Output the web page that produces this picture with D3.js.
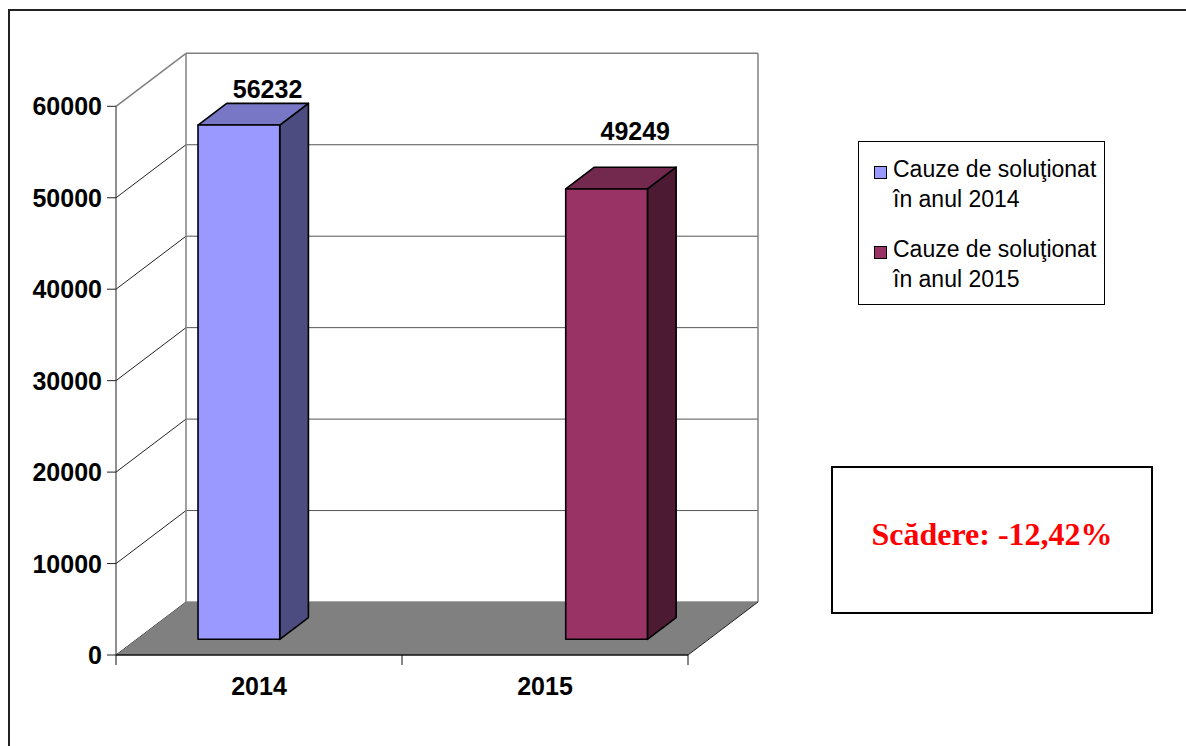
<!DOCTYPE html>
<html>
<head>
<meta charset="utf-8">
<title>Cauze de solutionat 2014 - 2015</title>
<script src="https://d3js.org/d3.v7.min.js"></script>
<style>
    body { margin: 0; background: #fff; }
    text { font-family: "Liberation Sans", Arial, sans-serif; }
</style>
</head>
<body>
<script>
// data
const categories = ["2014", "2015"];
const seriesNames = ["Cauze de soluţionat în anul 2014", "Cauze de soluţionat în anul 2015"];
const values2014 = [56232, null];
const values2015 = [null, 49249];
const yTicks = [0, 10000, 20000, 30000, 40000, 50000, 60000];
const noteText = "Scădere: -12,42%";

const W = 1186, H = 746;

// front plane of the 3d box
const pLeft = 116, pRight = 688, pBottom = 655, pTop = 106.3;
const DX = 70, DY = -53;          // full depth offset
const z0 = 0.296, z1 = 0.706;     // bar front / back depth fraction

const colors = [
    {front: "#9999ff", top: "#7777c6", side: "#4c4c80"},
    {front: "#993366", top: "#73284d", side: "#4d1a33"}
];
const labelLift = [5, 27];  // excel moved the labels a bit

const svg = d3.select("body").append("svg")
    .attr("width", W)
    .attr("height", H);

// outer frame
svg.append("rect")
    .attr("x", 9).attr("y", 10)
    .attr("width", W + 20).attr("height", H + 20)
    .attr("fill", "none")
    .attr("stroke", "#222")
    .attr("stroke-width", 2);

const y = d3.scaleLinear().domain([0, 60000]).range([pBottom, pTop]);
const x0 = d3.scaleBand().domain(categories).range([pLeft, pRight]);
const x1 = d3.scaleBand().domain([0, 1]).range([0, x0.bandwidth()]).paddingOuter(0.75);

const g = svg.append("g");

// back wall + side wall grid
yTicks.forEach(function(t, i) {
    var last = i == yTicks.length - 1;
    g.append("line")
        .attr("x1", pLeft + DX).attr("x2", pRight + DX)
        .attr("y1", y(t) + DY).attr("y2", y(t) + DY)
        .attr("stroke", last ? "#808080" : "#555")
        .attr("stroke-width", last ? 1.5 : 1);
    g.append("line")
        .attr("x1", pLeft).attr("x2", pLeft + DX)
        .attr("y1", y(t)).attr("y2", y(t) + DY)
        .attr("stroke", last ? "#808080" : "#222")
        .attr("stroke-width", last ? 1.5 : 1);
});
[pLeft + DX, pRight + DX].forEach(function(xx) {
    g.append("line")
        .attr("x1", xx).attr("x2", xx)
        .attr("y1", y(60000) + DY).attr("y2", y(0) + DY)
        .attr("stroke", "#808080")
        .attr("stroke-width", 1.5);
});

// floor
g.append("path")
    .attr("d", "M" + pLeft + "," + y(0) + "L" + pRight + "," + y(0) +
        "L" + (pRight + DX) + "," + (y(0) + DY) + "L" + (pLeft + DX) + "," + (y(0) + DY) + "Z")
    .attr("fill", "#808080");
g.append("line")
    .attr("x1", pRight).attr("y1", y(0))
    .attr("x2", pRight + DX).attr("y2", y(0) + DY)
    .attr("stroke", "#222");

// bars
var bars = [];
categories.forEach(function(c, ci) {
    [values2014, values2015].forEach(function(vals, si) {
        if (vals[ci] != null) bars.push({cat: c, s: si, v: vals[ci]});
    });
});

function pt(x, yy) { return x + "," + yy; }

bars.forEach(function(d) {
    var bw = x1.bandwidth();
    var xa = x0(d.cat) + x1(d.s) + z0 * DX;
    var xb = xa + bw;
    var ya = y(d.v) + z0 * DY;
    var yb = y(0) + z0 * DY;
    var ddx = (z1 - z0) * DX, ddy = (z1 - z0) * DY;
    var col = colors[d.s];
    var bg = g.append("g")
        .attr("stroke", "#000")
        .attr("stroke-width", 1.6)
        .attr("stroke-linejoin", "round");
    bg.append("polygon")
        .attr("points", [pt(xb, ya), pt(xb + ddx, ya + ddy), pt(xb + ddx, yb + ddy), pt(xb, yb)].join(" "))
        .attr("fill", col.side);
    bg.append("polygon")
        .attr("points", [pt(xa, ya), pt(xa + ddx, ya + ddy), pt(xb + ddx, ya + ddy), pt(xb, ya)].join(" "))
        .attr("fill", col.top);
    bg.append("rect")
        .attr("x", xa).attr("y", ya)
        .attr("width", bw).attr("height", yb - ya)
        .attr("fill", col.front);

    g.append("text")
        .attr("x", xa + bw / 2 + ddx)
        .attr("y", ya + ddy - labelLift[d.s])
        .attr("text-anchor", "middle")
        .attr("font-size", 25)
        .attr("font-weight", "bold")
        .text(d.v);
});

// y axis
var yAxisG = svg.append("g").attr("stroke", "#222");
yAxisG.append("line")
    .attr("x1", pLeft).attr("x2", pLeft)
    .attr("y1", y(60000)).attr("y2", y(0));
yTicks.forEach(function(t) {
    yAxisG.append("line")
        .attr("x1", pLeft - 9).attr("x2", pLeft)
        .attr("y1", y(t)).attr("y2", y(t));
    svg.append("text")
        .attr("x", pLeft - 14)
        .attr("y", y(t) + 9)
        .attr("text-anchor", "end")
        .attr("font-size", 25)
        .attr("font-weight", "bold")
        .text(t);
});

// x axis
var xAxisG = svg.append("g").attr("stroke", "#111");
xAxisG.append("line")
    .attr("x1", pLeft).attr("x2", pRight)
    .attr("y1", y(0)).attr("y2", y(0))
    .attr("stroke-width", 1.5);
[pLeft, pLeft + x0.bandwidth(), pRight].forEach(function(xx) {
    xAxisG.append("line")
        .attr("x1", xx).attr("x2", xx)
        .attr("y1", y(0)).attr("y2", y(0) + 10);
});
categories.forEach(function(c) {
    svg.append("text")
        .attr("x", x0(c) + x0.bandwidth() / 2)
        .attr("y", 695)
        .attr("text-anchor", "middle")
        .attr("font-size", 25)
        .attr("font-weight", "bold")
        .text(c);
});

// legend
var leg = svg.append("g");
leg.append("rect")
    .attr("x", 858.5).attr("y", 141.5)
    .attr("width", 246).attr("height", 163)
    .attr("fill", "#fff")
    .attr("stroke", "#000");
seriesNames.forEach(function(name, i) {
    var yy = 166 + i * 80;
    leg.append("rect")
        .attr("x", 874.5).attr("y", yy + 0.5)
        .attr("width", 12).attr("height", 12)
        .attr("fill", colors[i].front)
        .attr("stroke", "#000");
    var words = name.split(" ");
    var lines = [words.slice(0, 3).join(" "), words.slice(3).join(" ")];
    lines.forEach(function(l, li) {
        leg.append("text")
            .attr("x", 893)
            .attr("y", yy + 11 + li * 30)
            .attr("font-size", 23)
            .text(l);
    });
});

// note box
svg.append("rect")
    .attr("x", 832).attr("y", 467)
    .attr("width", 320).attr("height", 146)
    .attr("fill", "#fff")
    .attr("stroke", "#000")
    .attr("stroke-width", 2);
svg.append("text")
    .attr("x", 992).attr("y", 545)
    .attr("text-anchor", "middle")
    .style("font-family", "'Liberation Serif', 'Times New Roman', serif")
    .attr("font-size", 32)
    .attr("font-weight", "bold")
    .attr("fill", "#ff0000")
    .text(noteText);
</script>
</body>
</html>
